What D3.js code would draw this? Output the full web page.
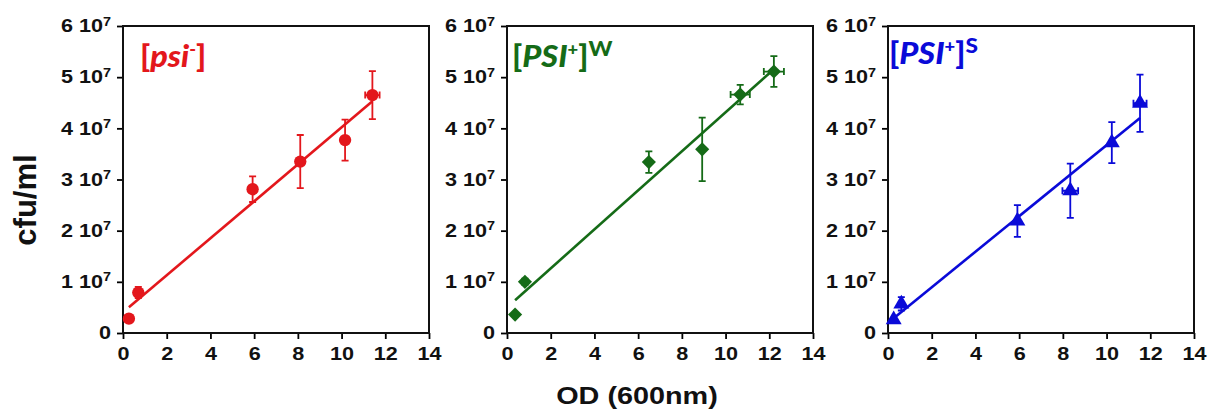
<!DOCTYPE html>
<html>
<head>
<meta charset="utf-8">
<script src="https://cdn.jsdelivr.net/npm/d3@7"></script>
<style>
  html, body { margin: 0; padding: 0; background: #fff; }
  svg { display: block; }
</style>
</head>
<body>
<div id="chart"></div>
<script>
// tick values
const odTicks = [0, 2, 4, 6, 8, 10, 12, 14];
const cfuTicks = [0, 1, 2, 3, 4, 5, 6]; // x 10^7

// [psi-]
const psiMinusOD = [0.27, 0.70, 5.93, 8.11, 10.16, 11.41];
const psiMinusOdErr = [0, 0, 0, 0, 0, 0.33];
const psiMinusCfu = [0.28, 0.79, 2.81, 3.35, 3.77, 4.65];
const psiMinusCfuErr = [0, 0.11, 0.25, 0.52, 0.40, 0.47];

// [PSI+]W
const psiWeakOD = [0.37, 0.82, 6.49, 8.93, 10.67, 12.21];
const psiWeakOdErr = [0, 0, 0, 0, 0.44, 0.46];
const psiWeakCfu = [0.36, 1.00, 3.34, 3.59, 4.66, 5.11];
const psiWeakCfuErr = [0, 0.06, 0.21, 0.62, 0.19, 0.30];

// [PSI+]S
const psiStrongOD = [0.26, 0.61, 5.92, 8.34, 10.24, 11.53];
const psiStrongOdErr = [0, 0, 0, 0.36, 0, 0.30];
const psiStrongCfu = [0.26, 0.57, 2.19, 2.78, 3.72, 4.49];
const psiStrongCfuErr = [0, 0.13, 0.31, 0.53, 0.40, 0.56];

const W = 1217, H = 419;
const pw = 306, ph = 307, plotTop = 26;
const panelX = [123, 507, 888];
const sx = 1.2; // reference text is stretched sideways

const panels = [
  {od: psiMinusOD, odErr: psiMinusOdErr, cfu: psiMinusCfu, err: psiMinusCfuErr,
   color: '#e3171c', symbol: 'circle', label: ['psi', '-', ''], lx: 17, ly: 41},
  {od: psiWeakOD, odErr: psiWeakOdErr, cfu: psiWeakCfu, err: psiWeakCfuErr,
   color: '#156b17', symbol: 'diamond', label: ['PSI', '+', 'W'], lx: 5, ly: 41},
  {od: psiStrongOD, odErr: psiStrongOdErr, cfu: psiStrongCfu, err: psiStrongCfuErr,
   color: '#0a0ad8', symbol: 'triangle', label: ['PSI', '+', 'S'], lx: 1, ly: 38}
];

const svg = d3.select('#chart').append('svg')
  .attr('width', W).attr('height', H);

const x = d3.scaleLinear().domain([0, 14]).range([0, pw]);
const y = d3.scaleLinear().domain([0, 6]).range([ph, 0]);

// least squares fit
function fit(xs, ys) {
  const n = xs.length;
  const mx = d3.mean(xs), my = d3.mean(ys);
  let sxy = 0, sxx = 0;
  for (let i = 0; i < n; i++) {
    sxy += (xs[i] - mx) * (ys[i] - my);
    sxx += (xs[i] - mx) * (xs[i] - mx);
  }
  const b = sxy / sxx;
  return {b: b, a: my - b * mx};
}

panels.forEach((p, k) => {
  const g = svg.append('g').attr('transform', `translate(${panelX[k]},${plotTop})`);

  // axes
  const xa = g.append('g').attr('transform', `translate(0,${ph})`)
    .call(d3.axisBottom(x).tickValues(odTicks).tickSize(6).tickPadding(4).tickSizeOuter(0));
  const ya = g.append('g')
    .call(d3.axisLeft(y).tickValues(cfuTicks).tickSize(6).tickPadding(6).tickSizeOuter(0));

  [xa, ya].forEach(a => {
    a.select('.domain').remove();
    a.selectAll('line').attr('stroke', '#000').attr('stroke-width', 1.8);
    a.selectAll('text')
      .attr('fill', '#111')
      .style('font-family', 'Liberation Sans, Arial, sans-serif')
      .style('font-weight', 'bold')
      .style('font-size', '18px');
  });
  xa.selectAll('text').each(function() {
    const t = d3.select(this);
    t.attr('transform', `scale(${sx},1)`).attr('dy', '0.95em');
  });
  ya.selectAll('text').each(function(d) {
    const t = d3.select(this);
    const xx = +t.attr('x');
    t.text(null).attr('x', 0).attr('transform', `translate(${xx},0) scale(${sx},1)`);
    if (d === 0) {
      t.text('0');
    } else {
      t.append('tspan').text(d + ' 10');
      t.append('tspan').text('7').attr('dy', '-0.55em').style('font-size', '12px');
    }
  });

  // frame
  g.append('rect').attr('width', pw).attr('height', ph)
    .attr('fill', 'none').attr('stroke', '#111').attr('stroke-width', 2);

  const pts = p.od.map((v, i) => ({x: v, xe: p.odErr[i], y: p.cfu[i], ye: p.err[i]}));

  // fit line
  const f = fit(p.od, p.cfu);
  const x0 = d3.min(p.od), x1 = d3.max(p.od);
  g.append('line')
    .attr('x1', x(x0)).attr('y1', y(f.a + f.b * x0))
    .attr('x2', x(x1)).attr('y2', y(f.a + f.b * x1))
    .attr('stroke', p.color).attr('stroke-width', 2.6);

  // error bars
  const eb = g.append('g').attr('stroke', p.color).attr('stroke-width', 1.8).attr('fill', 'none');
  const cap = 3.5;
  pts.filter(d => d.ye > 0).forEach(d => {
    eb.append('path').attr('d',
      `M${x(d.x)},${y(d.y - d.ye)}V${y(d.y + d.ye)}` +
      `M${x(d.x) - cap},${y(d.y + d.ye)}h${cap * 2}` +
      `M${x(d.x) - cap},${y(d.y - d.ye)}h${cap * 2}`);
  });
  pts.filter(d => d.xe > 0).forEach(d => {
    eb.append('path').attr('d',
      `M${x(d.x - d.xe)},${y(d.y)}H${x(d.x + d.xe)}` +
      `M${x(d.x - d.xe)},${y(d.y) - cap}v${cap * 2}` +
      `M${x(d.x + d.xe)},${y(d.y) - cap}v${cap * 2}`);
  });

  // markers
  let sym, size, rot = 0;
  if (p.symbol === 'circle') { sym = d3.symbolCircle; size = 120; }
  else if (p.symbol === 'diamond') { sym = d3.symbolSquare; size = 100; rot = 45; }
  else { sym = d3.symbolTriangle; size = 110; }
  g.append('g').selectAll('path.pt')
    .data(pts).enter().append('path')
    .attr('class', 'pt')
    .attr('d', d3.symbol().type(sym).size(size))
    .attr('transform', d => `translate(${x(d.x)},${y(d.y)}) rotate(${rot})`)
    .attr('fill', p.color);

  // panel label
  const lab = g.append('text')
    .attr('transform', `translate(${p.lx},${p.ly}) scale(1.08,1)`)
    .attr('fill', p.color)
    .style('font-family', 'Lato, Open Sans, sans-serif')
    .style('font-weight', '900')
    .style('font-size', '30px');
  lab.append('tspan').text('[');
  lab.append('tspan').text(p.label[0]).style('font-style', 'italic');
  lab.append('tspan').text(p.label[1]).attr('dy', -12).style('font-size', '17px');
  lab.append('tspan').text(']').attr('dy', 12);
  if (p.label[2]) {
    lab.append('tspan').text(p.label[2]).attr('dy', -11).style('font-size', '21px');
  }
});

// axis titles
svg.append('text')
  .attr('transform', `translate(${637},${404}) scale(${sx},1)`)
  .attr('text-anchor', 'middle')
  .style('font-family', 'Liberation Sans, Arial, sans-serif')
  .style('font-weight', 'bold').style('font-size', '24px')
  .attr('fill', '#111')
  .text('OD (600nm)');

svg.append('text')
  .attr('transform', `translate(${36},${200}) rotate(-90)`)
  .attr('text-anchor', 'middle')
  .style('font-family', 'Liberation Sans, Arial, sans-serif')
  .style('font-weight', 'bold').style('font-size', '31px')
  .attr('fill', '#111')
  .text('cfu/ml');
</script>
</body>
</html>
